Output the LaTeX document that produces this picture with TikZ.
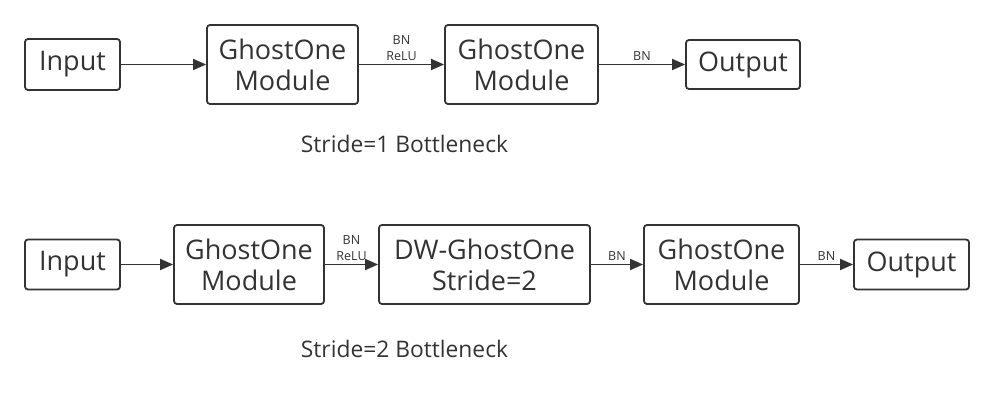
\documentclass[tikz,border=0pt]{standalone}
\usepackage{fontspec}
\setmainfont{Open Sans}
\usetikzlibrary{arrows.meta}
\definecolor{ink}{HTML}{333333}
\tikzset{
  box/.style={draw=ink, line width=1.8pt, rounded corners=3pt, text=ink, align=center,
    font=\fontsize{27}{31}\selectfont, inner sep=0pt},
  conn/.style={draw=ink, line width=1.8pt, -{Triangle[length=13pt,width=11pt]}},
  lab/.style={text=ink, font=\fontsize{12.5}{16}\selectfont, align=center, above, inner sep=3pt},
  captiontext/.style={text=ink, font=\fontsize{22.8}{26}\selectfont}
}
\begin{document}
\begin{tikzpicture}[x=1pt,y=-1pt]
\useasboundingbox (0,0) rectangle (994,393);
% top row
\node[box, minimum width=95pt, minimum height=51pt] (in1) at (72.5,64.5) {Input};
\node[box, minimum width=151pt, minimum height=79pt] (g1) at (282.5,64.5) {GhostOne\\Module};
\node[box, minimum width=153pt, minimum height=79pt] (g2) at (521.5,64.5) {GhostOne\\Module};
\node[box, minimum width=114pt, minimum height=49pt] (out1) at (743,64.5) {Output};
\draw[conn] (in1) -- (g1);
\draw[conn] (g1) -- node[lab] {BN\\ReLU} (g2);
\draw[conn] (g2) -- node[lab] {BN} (out1);
\node[captiontext] (c1) at (404.5,144) {Stride=1 Bottleneck};
% bottom row
\node[box, minimum width=95pt, minimum height=50pt] (in2) at (72.5,264.5) {Input};
\node[box, minimum width=150pt, minimum height=79pt] (g3) at (249,264.5) {GhostOne\\Module};
\node[box, minimum width=211pt, minimum height=79pt] (dw) at (484.5,264.5) {DW-GhostOne\\Stride=2};
\node[box, minimum width=155pt, minimum height=79pt] (g4) at (721.5,264.5) {GhostOne\\Module};
\node[box, minimum width=115pt, minimum height=50pt] (out2) at (911.5,264.5) {Output};
\draw[conn] (in2) -- (g3);
\draw[conn] (g3) -- node[lab] {BN\\ReLU} (dw);
\draw[conn] (dw) -- node[lab] {BN} (g4);
\draw[conn] (g4) -- node[lab] {BN} (out2);
\node[captiontext] (c2) at (404.5,349) {Stride=2 Bottleneck};
\end{tikzpicture}
\end{document}
